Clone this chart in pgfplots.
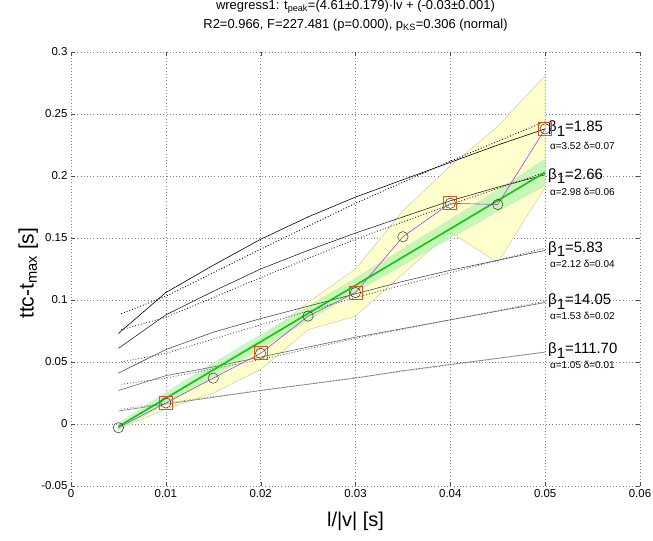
\documentclass[border=0pt]{standalone}
\usepackage{pgfplots}
\pgfplotsset{compat=1.18}
\usepackage{fontspec}
\setmainfont{Liberation Sans}
\definecolor{purp}{RGB}{176,60,230}
\definecolor{sq}{RGB}{225,80,30}
\definecolor{gline}{RGB}{10,200,10}
\definecolor{gband}{RGB}{175,240,175}
\definecolor{yband}{RGB}{255,255,205}
\definecolor{yedge}{RGB}{205,205,170}
\newcommand{\bfont}{\fontsize{15}{16}\selectfont}
\newcommand{\afont}{\fontsize{10}{11}\selectfont}
\newcommand{\tfont}{\fontsize{13}{15}\selectfont}
\begin{document}
\begin{tikzpicture}
\useasboundingbox (-71bp,-55bp) rectangle (582bp,486bp);
\begin{axis}[
  scale only axis, width=569bp, height=434bp,
  xmin=0, xmax=0.06, ymin=-0.05, ymax=0.3,
  scaled ticks=false,
  xtick={0,0.01,0.02,0.03,0.04,0.05,0.06},
  xticklabels={0,0.01,0.02,0.03,0.04,0.05,0.06},
  ytick={-0.05,0,0.05,0.1,0.15,0.2,0.25,0.3},
  yticklabels={-0.05,0,0.05,0.1,0.15,0.2,0.25,0.3},
  ticklabel style={font=\fontsize{11.5}{13}\selectfont},
  tick style={draw=black!70, major tick length=4pt},
  axis line style={draw=none},
  grid=major, grid style={dash pattern=on 0.8pt off 2.4pt, black!50, line width=0.6pt},
  xlabel={l/|v| [s]}, ylabel={ttc-t\textsubscript{max} [s]},
  xlabel style={font=\fontsize{20}{22}\selectfont, at={(axis description cs:0.5,-0.081)}, anchor=center},
  ylabel style={font=\fontsize{21}{22}\selectfont, at={(axis description cs:-0.075,0.49)}, anchor=center},
  clip=false,
]
% yellow band
\addplot[fill=yband, draw=yedge, line width=0.5pt] coordinates {
 (0.005,-0.002) (0.01,0.021) (0.015,0.045) (0.02,0.068) (0.025,0.098) (0.03,0.125) (0.035,0.172) (0.04,0.208) (0.045,0.240) (0.05,0.281)
 (0.05,0.191) (0.045,0.130) (0.04,0.155) (0.035,0.121) (0.03,0.087) (0.025,0.076) (0.02,0.044) (0.015,0.025) (0.01,0.012) (0.005,-0.004)} -- cycle;
% green band
\addplot[fill=gband, draw=none, fill opacity=0.65] coordinates {
 (0.005,0.001) (0.01,0.0258) (0.015,0.0495) (0.02,0.0723) (0.025,0.0951) (0.03,0.1179) (0.035,0.1417) (0.04,0.1654) (0.045,0.1892) (0.05,0.214)
 (0.05,0.192) (0.045,0.1712) (0.04,0.1494) (0.035,0.1277) (0.03,0.1059) (0.025,0.0831) (0.02,0.0603) (0.015,0.0375) (0.01,0.0158) (0.005,-0.005)} -- cycle;
% model curves (solid)
\addplot[black, line width=0.6pt] coordinates {(0.005,0.073) (0.01,0.106) (0.015,0.128) (0.02,0.149) (0.025,0.167) (0.03,0.183) (0.035,0.197) (0.04,0.211) (0.045,0.225) (0.05,0.238)};
\addplot[black!85, line width=0.6pt] coordinates {(0.005,0.061) (0.01,0.088) (0.015,0.107) (0.02,0.125) (0.025,0.140) (0.03,0.154) (0.035,0.167) (0.04,0.180) (0.045,0.191) (0.05,0.201)};
\addplot[black!70, line width=0.6pt] coordinates {(0.005,0.041) (0.01,0.060) (0.015,0.074) (0.02,0.085) (0.025,0.095) (0.03,0.105) (0.035,0.115) (0.04,0.124) (0.045,0.132) (0.05,0.140)};
\addplot[black!60, line width=0.6pt] coordinates {(0.005,0.027) (0.01,0.039) (0.015,0.046) (0.02,0.054) (0.025,0.062) (0.03,0.070) (0.035,0.077) (0.04,0.084) (0.045,0.091) (0.05,0.098)};
\addplot[black!50, line width=0.6pt] coordinates {(0.005,0.0105) (0.01,0.016) (0.015,0.0215) (0.02,0.027) (0.025,0.032) (0.03,0.037) (0.035,0.043) (0.04,0.048) (0.045,0.053) (0.05,0.058)};
% dotted fits
\addplot[black, dotted, line width=0.9pt] coordinates {(0.0053,0.089) (0.01,0.103) (0.02,0.141) (0.03,0.178) (0.04,0.212) (0.05,0.244)};
\addplot[black!85, dotted, line width=0.9pt] coordinates {(0.0053,0.076) (0.01,0.086) (0.02,0.118) (0.03,0.149) (0.04,0.177) (0.05,0.203)};
\addplot[black!70, dotted, line width=0.9pt] coordinates {(0.0053,0.050) (0.01,0.057) (0.02,0.080) (0.03,0.102) (0.04,0.122) (0.05,0.142)};
\addplot[black!60, dotted, line width=0.9pt] coordinates {(0.0053,0.032) (0.01,0.037) (0.02,0.052) (0.03,0.069) (0.04,0.084) (0.05,0.099)};
\addplot[black!50, dotted, line width=0.9pt] coordinates {(0.0053,0.012) (0.05,0.058)};
% regression line
\addplot[gline, line width=1.6pt] coordinates {(0.005,-0.002) (0.05,0.203)};
% data
\addplot[purp, line width=0.6pt, mark=o, mark size=5.2pt, mark options={draw=black!80, line width=0.5pt}] coordinates {
 (0.005,-0.003) (0.01,0.017) (0.015,0.037) (0.02,0.057) (0.025,0.087) (0.03,0.106) (0.035,0.151) (0.04,0.178) (0.045,0.177) (0.05,0.238)};
\addplot[only marks, mark=square, mark size=6.5pt, mark options={draw=sq, line width=0.8pt}] coordinates {
 (0.01,0.017) (0.02,0.057) (0.03,0.106) (0.04,0.178) (0.05,0.238)};
% title
\node[anchor=base, inner sep=0pt, font=\tfont] at (axis description cs:0.5,1.098) {wregress1: t\textsubscript{peak}=(4.61±0.179)·lv + (-0.03±0.001)};
\node[anchor=base, inner sep=0pt, font=\tfont] at (axis description cs:0.5,1.055) {R2=0.966, F=227.481 (p=0.000), p\textsubscript{KS}=0.306 (normal)};
% labels
\node[anchor=base west, inner sep=0pt, font=\bfont] at (axis cs:0.0503,0.2355) {β\raisebox{-0.6ex}{1}=1.85};
\node[anchor=base west, inner sep=0pt, font=\afont] at (axis cs:0.0505,0.2215) {α=3.52 δ=0.07};
\node[anchor=base west, inner sep=0pt, font=\bfont] at (axis cs:0.0503,0.1975) {β\raisebox{-0.6ex}{1}=2.66};
\node[anchor=base west, inner sep=0pt, font=\afont] at (axis cs:0.0505,0.1845) {α=2.98 δ=0.06};
\node[anchor=base west, inner sep=0pt, font=\bfont] at (axis cs:0.0503,0.1385) {β\raisebox{-0.6ex}{1}=5.83};
\node[anchor=base west, inner sep=0pt, font=\afont] at (axis cs:0.0505,0.1265) {α=2.12 δ=0.04};
\node[anchor=base west, inner sep=0pt, font=\bfont] at (axis cs:0.0503,0.0965) {β\raisebox{-0.6ex}{1}=14.05};
\node[anchor=base west, inner sep=0pt, font=\afont] at (axis cs:0.0505,0.0845) {α=1.53 δ=0.02};
\node[anchor=base west, inner sep=0pt, font=\bfont] at (axis cs:0.0503,0.0565) {β\raisebox{-0.6ex}{1}=111.70};
\node[anchor=base west, inner sep=0pt, font=\afont] at (axis cs:0.0505,0.0445) {α=1.05 δ=0.01};
\end{axis}
\end{tikzpicture}
\end{document}
